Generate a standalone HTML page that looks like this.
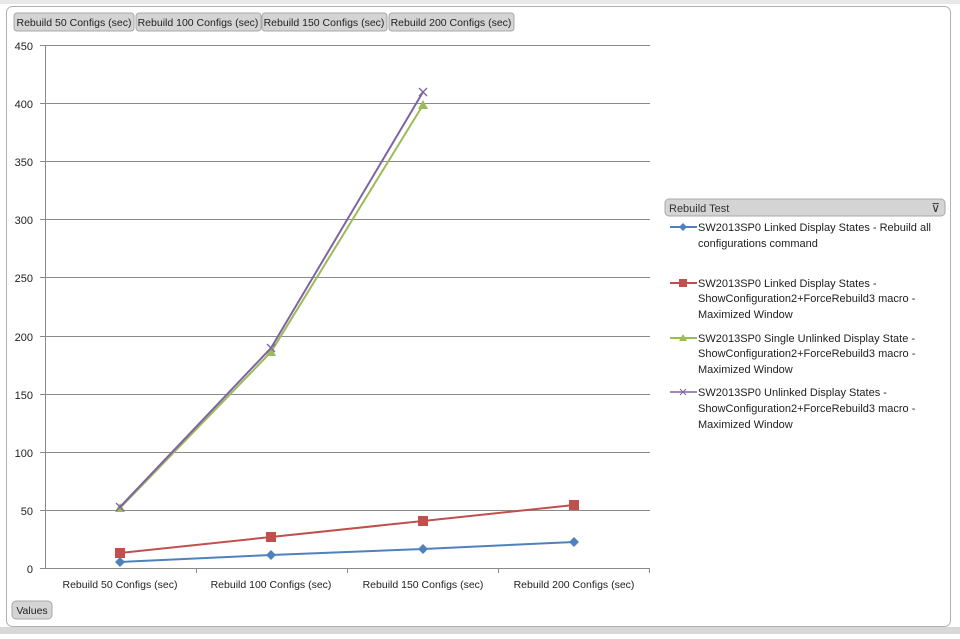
<!DOCTYPE html>
<html><head><style>
body{margin:0;width:960px;height:634px;background:#fff;overflow:hidden;font-family:"Liberation Sans",sans-serif;}
</style></head><body>
<svg width="960" height="634" xmlns="http://www.w3.org/2000/svg" font-family="Liberation Sans, sans-serif">
<rect x="0" y="0" width="960" height="634" fill="#fff"/>
<rect x="0" y="0" width="960" height="4" fill="#e8e8e8"/>
<rect x="0" y="627" width="960" height="7" fill="#d8d8d8"/>
<rect x="6.5" y="6.5" width="944" height="620" rx="6" fill="#fff" stroke="#b0b0b0"/>
<g font-size="10.5" fill="#222">
<rect x="14" y="13" width="120" height="18" rx="3" fill="#d4d4d4" stroke="#a8a8a8"/><text x="74" y="26" text-anchor="middle">Rebuild 50 Configs (sec)</text>
<rect x="136" y="13" width="125" height="18" rx="3" fill="#d4d4d4" stroke="#a8a8a8"/><text x="198" y="26" text-anchor="middle">Rebuild 100 Configs (sec)</text>
<rect x="262" y="13" width="125" height="18" rx="3" fill="#d4d4d4" stroke="#a8a8a8"/><text x="324" y="26" text-anchor="middle">Rebuild 150 Configs (sec)</text>
<rect x="389" y="13" width="125" height="18" rx="3" fill="#d4d4d4" stroke="#a8a8a8"/><text x="451" y="26" text-anchor="middle">Rebuild 200 Configs (sec)</text>
<rect x="12" y="601" width="40" height="18" rx="4" fill="#d4d4d4" stroke="#a8a8a8"/><text x="32" y="614" text-anchor="middle">Values</text>
</g>
<g stroke="#8a8a8a" stroke-width="1">
<line x1="40" y1="45.5" x2="650" y2="45.5"/>
<line x1="40" y1="103.5" x2="650" y2="103.5"/>
<line x1="40" y1="161.5" x2="650" y2="161.5"/>
<line x1="40" y1="219.5" x2="650" y2="219.5"/>
<line x1="40" y1="277.5" x2="650" y2="277.5"/>
<line x1="40" y1="336.5" x2="650" y2="336.5"/>
<line x1="40" y1="394.5" x2="650" y2="394.5"/>
<line x1="40" y1="452.5" x2="650" y2="452.5"/>
<line x1="40" y1="510.5" x2="650" y2="510.5"/>
<line x1="40" y1="568.5" x2="650" y2="568.5"/>
<line x1="45.5" y1="45" x2="45.5" y2="568"/>
<line x1="196.5" y1="568" x2="196.5" y2="573"/>
<line x1="347.5" y1="568" x2="347.5" y2="573"/>
<line x1="498.5" y1="568" x2="498.5" y2="573"/>
<line x1="649.5" y1="568" x2="649.5" y2="573"/>
</g>
<g font-size="11" fill="#222" text-anchor="end">
<text x="33" y="50">450</text><text x="33" y="108">400</text><text x="33" y="166">350</text><text x="33" y="224">300</text><text x="33" y="282">250</text><text x="33" y="341">200</text><text x="33" y="399">150</text><text x="33" y="457">100</text><text x="33" y="515">50</text><text x="33" y="573">0</text>
</g>
<g font-size="10.5" fill="#222" text-anchor="middle">
<text x="120" y="588">Rebuild 50 Configs (sec)</text>
<text x="271" y="588">Rebuild 100 Configs (sec)</text>
<text x="423" y="588">Rebuild 150 Configs (sec)</text>
<text x="574" y="588">Rebuild 200 Configs (sec)</text>
</g>
<polyline points="120,562 271,555 423,549 574,542" fill="none" stroke="#4f81bd" stroke-width="2"/>
<g fill="#4f81bd"><path d="M120 557l5 5-5 5-5-5z"/><path d="M271 550l5 5-5 5-5-5z"/><path d="M423 544l5 5-5 5-5-5z"/><path d="M574 537l5 5-5 5-5-5z"/></g>
<polyline points="120,553 271,537 423,521 574,505" fill="none" stroke="#c0504d" stroke-width="2"/>
<g fill="#c0504d"><rect x="115" y="548" width="10" height="10"/><rect x="266" y="532" width="10" height="10"/><rect x="418" y="516" width="10" height="10"/><rect x="569" y="500" width="10" height="10"/></g>
<polyline points="120,508 271,352 423,105" fill="none" stroke="#9bbb59" stroke-width="2"/>
<g fill="#9bbb59"><path d="M120 503l5 9h-10z"/><path d="M271 347l5 9h-10z"/><path d="M423 100l5 9h-10z"/></g>
<polyline points="120,507 271,348 423,92" fill="none" stroke="#8064a2" stroke-width="2"/>
<g stroke="#8064a2" stroke-width="1.3"><path d="M116 503l8 8M124 503l-8 8"/><path d="M267 344l8 8M275 344l-8 8"/><path d="M419 88l8 8M427 88l-8 8"/></g>
<rect x="665" y="199" width="280" height="17" rx="4" fill="#d4d4d4" stroke="#a8a8a8"/>
<text x="669" y="212" font-size="11" fill="#333">Rebuild Test</text>
<text x="940" y="212" font-size="12" fill="#333" text-anchor="end">⊽</text>
<g font-size="11" fill="#222">
<line x1="670" y1="227" x2="697" y2="227" stroke="#4f81bd" stroke-width="2"/><path d="M683 223l4 4-4 4-4-4z" fill="#4f81bd"/>
<text x="698" y="231">SW2013SP0 Linked Display States - Rebuild all</text><text x="698" y="247">configurations command</text>
<line x1="670" y1="283" x2="697" y2="283" stroke="#c0504d" stroke-width="2"/><rect x="679" y="279" width="8" height="8" fill="#c0504d"/>
<text x="698" y="287">SW2013SP0 Linked Display States -</text><text x="698" y="302">ShowConfiguration2+ForceRebuild3 macro -</text><text x="698" y="318">Maximized Window</text>
<line x1="670" y1="338" x2="697" y2="338" stroke="#9bbb59" stroke-width="2"/><path d="M683 334l4 7h-8z" fill="#9bbb59"/>
<text x="698" y="342">SW2013SP0 Single Unlinked Display State -</text><text x="698" y="357">ShowConfiguration2+ForceRebuild3 macro -</text><text x="698" y="373">Maximized Window</text>
<line x1="670" y1="392" x2="697" y2="392" stroke="#8064a2" stroke-width="1.5"/><path d="M680 389l6 6M686 389l-6 6" stroke="#8064a2"/>
<text x="698" y="396">SW2013SP0 Unlinked Display States -</text><text x="698" y="412">ShowConfiguration2+ForceRebuild3 macro -</text><text x="698" y="428">Maximized Window</text>
</g>
</svg>
</body></html>
